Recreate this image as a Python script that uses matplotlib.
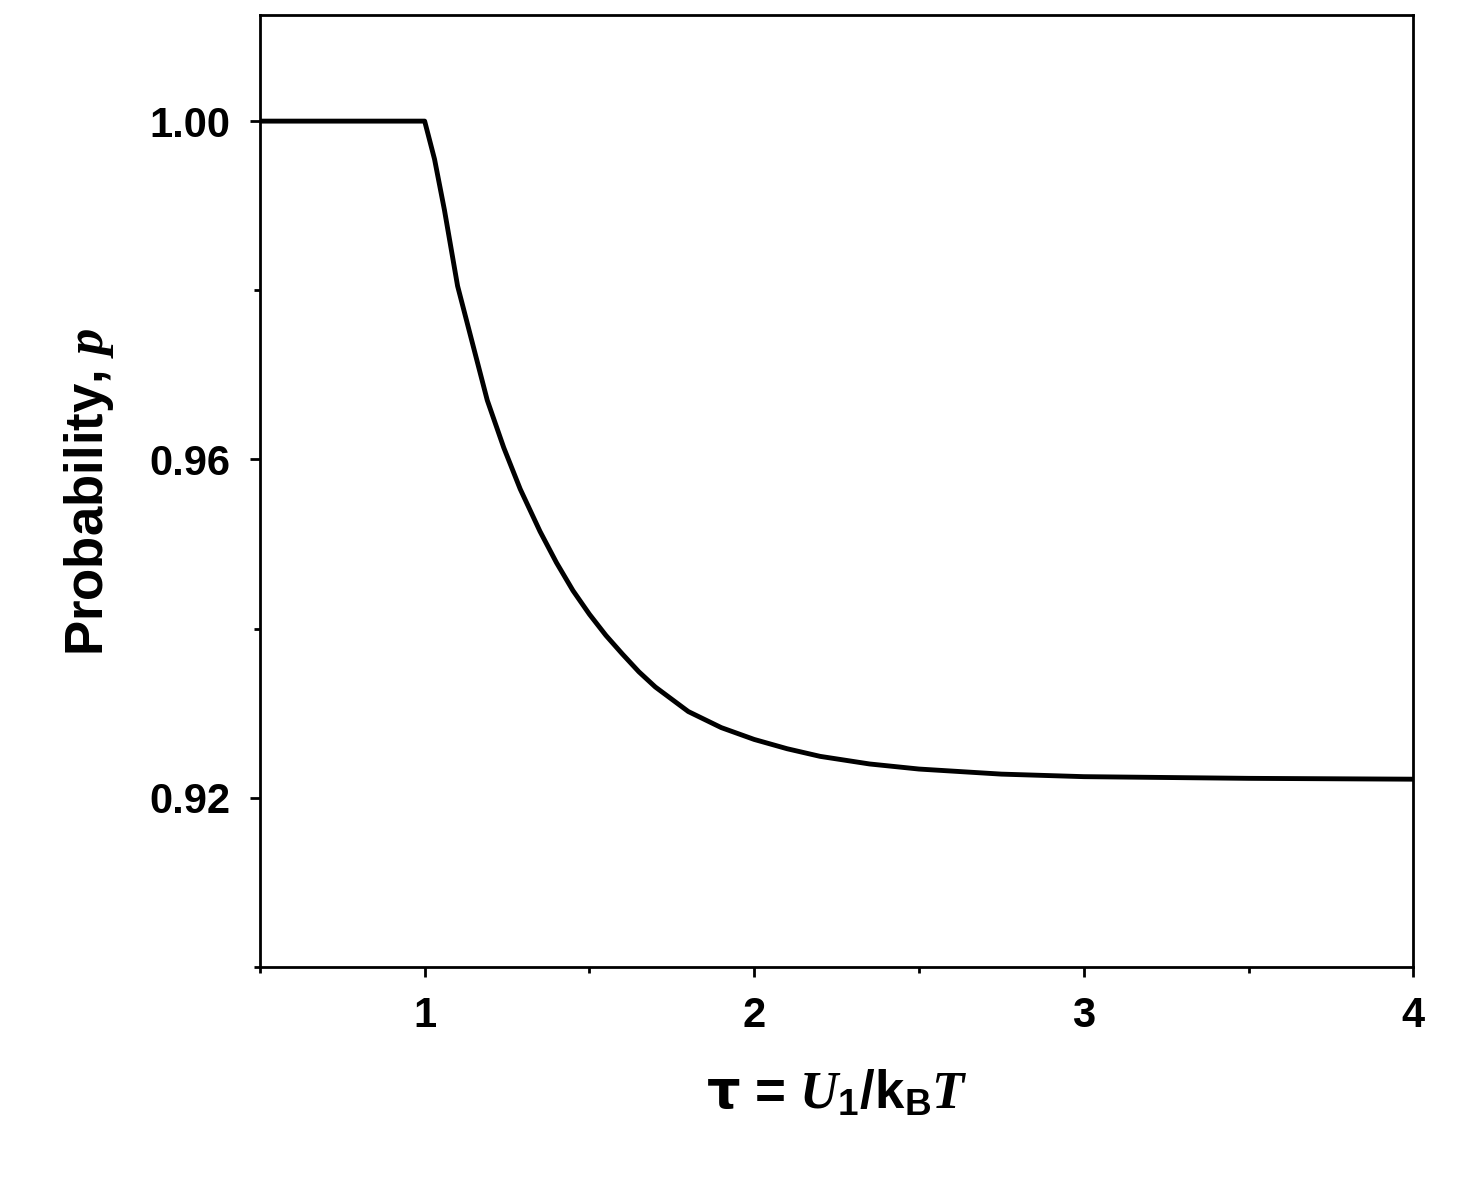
import matplotlib
matplotlib.use("Agg")
import matplotlib.pyplot as plt
from matplotlib.ticker import MultipleLocator

tau = [0.5, 1.0, 1.03, 1.06, 1.1, 1.15, 1.19, 1.24, 1.29, 1.35, 1.4, 1.45, 1.5, 1.55, 1.6, 1.65, 1.7, 1.8, 1.9, 2.0, 2.1, 2.2, 2.35, 2.5, 2.75, 3.0, 3.5, 4.0]
prob = [1.0, 1.0, 0.9955, 0.9895, 0.9805, 0.973, 0.9670, 0.9614, 0.9565, 0.9515, 0.9478, 0.9445, 0.9417, 0.9392, 0.9370, 0.9349, 0.9331, 0.9302, 0.9283, 0.9269, 0.9258, 0.9249, 0.9240, 0.9234, 0.9228, 0.9225, 0.9223, 0.9222]

plt.rcParams['font.family'] = ['Liberation Sans', 'DejaVu Sans']
plt.rcParams['font.weight'] = 'bold'
plt.rcParams['mathtext.fontset'] = 'custom'
plt.rcParams['mathtext.it'] = 'Liberation Serif:italic:bold'
plt.rcParams['mathtext.rm'] = 'Liberation Sans:bold'

fig = plt.figure(figsize=(14.6, 11.84), dpi=100)
ax = fig.add_axes([0.178, 0.1833, 0.79, 0.8037])
ax.plot(tau, prob, color='black', lw=3.5)
ax.set_xlim(0.5, 4)
ax.set_ylim(0.90, 1.0125)
ax.xaxis.set_major_locator(MultipleLocator(1))
ax.xaxis.set_minor_locator(MultipleLocator(0.5))
ax.yaxis.set_minor_locator(MultipleLocator(0.02))
ax.set_yticks([0.92, 0.96, 1.00])
ax.set_yticklabels(['0.92', '0.96', '1.00'])
for s in ax.spines.values():
    s.set_linewidth(2)
ax.tick_params(which='major', direction='out', length=7, width=2, labelsize=30, pad=14)
ax.tick_params(which='minor', direction='out', length=4, width=2)
for t in ax.get_xticklabels() + ax.get_yticklabels():
    t.set_fontweight('bold')
ax.set_xlabel(r'$\mathbf{\tau}$ = $\mathit{U}_{\mathrm{1}}$/k$_{\mathrm{B}}$$\mathit{T}$', fontsize=38, fontweight='bold', labelpad=24)
ax.set_ylabel(r'Probability, $\mathit{p}$', fontsize=38, fontweight='bold', labelpad=24)
fig.savefig('out.png', dpi=100)
